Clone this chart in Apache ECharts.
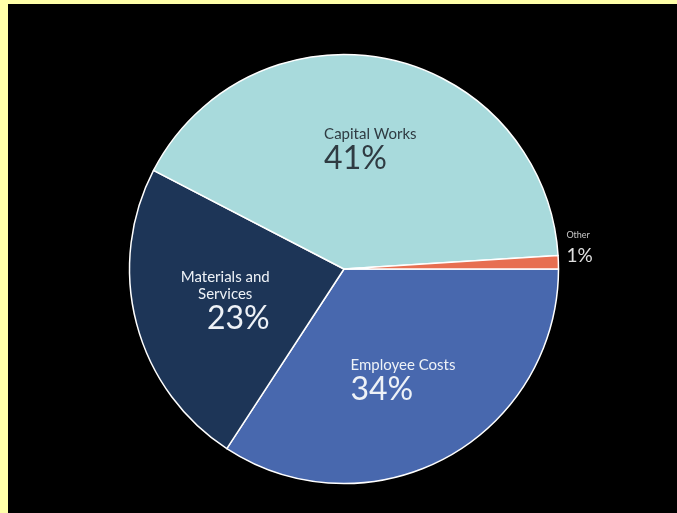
<!DOCTYPE html>
<html>
<head>
<meta charset="utf-8">
<script src="https://cdn.jsdelivr.net/npm/echarts@6/dist/echarts.min.js"></script>
<style>
  html, body { margin: 0; padding: 0; background: #ffffa8; }
  #chart { position: absolute; left: 8px; top: 4px; width: 669px; height: 509px; background: #000; }
</style>
</head>
<body>
<div id="chart"></div>
<script>
// slices, clockwise from 3 o'clock
const categories = ['Employee Costs', 'Materials and\nServices', 'Capital Works', 'Other'];
const shares = [34.2, 23.4, 41.4, 1.0];

const palette = ['#4868ae', '#1d3557', '#a8dadc', '#e76f51'];
const textColors = ['#eef2f7', '#eef2f7', '#2f3b42', '#d8d8d8'];
const nameAlign = ['left', 'center', 'left', 'left'];
const valueAlign = ['left', 'right', 'left', 'left'];
const labelNudge = [[-2, 0], [5, 0], [0, 6], [0, -12]];

const center = [336, 265];
const font = 'Lato, "Noto Sans", sans-serif';

const chart = echarts.init(document.getElementById('chart'));

const pct = p => Math.round(p) + '%';

// main pie: slices + the small outside label
const mainData = categories.map((name, i) => ({
    name: name,
    value: shares[i],
    itemStyle: { color: palette[i] },
    label: i === 3 ? {
        show: true,
        position: 'outside',
        offset: labelNudge[i],
        formatter: p => '{n|' + p.name + '}\n{v|' + pct(p.percent) + '}',
        rich: {
            n: { fontSize: 9, lineHeight: 12, color: '#c8c8c8', fontFamily: font, align: 'left' },
            v: { fontSize: 19, lineHeight: 30, color: '#e0e0e0', fontFamily: font, align: 'left' }
        }
    } : { show: false },
    labelLine: { show: false, length: 2, length2: 2 }
}));

// transparent overlay pie, only used to place inside labels a bit further out
const labelData = categories.map((name, i) => ({
    name: name,
    value: shares[i],
    label: i === 3 ? { show: false } : {
        show: true,
        position: 'inside',
        offset: labelNudge[i],
        formatter: p => p.name.split('\n').map(s => '{n|' + s + '}').join('\n') + '\n{v|' + pct(p.percent) + '}',
        rich: {
            n: { fontSize: 15, lineHeight: 17, color: textColors[i], fontFamily: font, align: nameAlign[i] },
            v: { fontSize: 32, lineHeight: 32, color: textColors[i], fontFamily: font, align: valueAlign[i] }
        }
    }
}));

chart.setOption({
    backgroundColor: '#000',
    animation: false,
    series: [{
        type: 'pie',
        center: center,
        radius: [0, 214.5],
        startAngle: 0,
        clockwise: true,
        avoidLabelOverlap: false,
        silent: true,
        itemStyle: { borderColor: '#ffffff', borderWidth: 1.5 },
        label: { distanceToLabelLine: 4 },
        data: mainData
    }, {
        type: 'pie',
        center: center,
        radius: [0, 250],
        startAngle: 0,
        clockwise: true,
        avoidLabelOverlap: false,
        silent: true,
        z: 5,
        itemStyle: { color: 'transparent', borderWidth: 0 },
        labelLine: { show: false },
        data: labelData
    }]
});
</script>
</body>
</html>
